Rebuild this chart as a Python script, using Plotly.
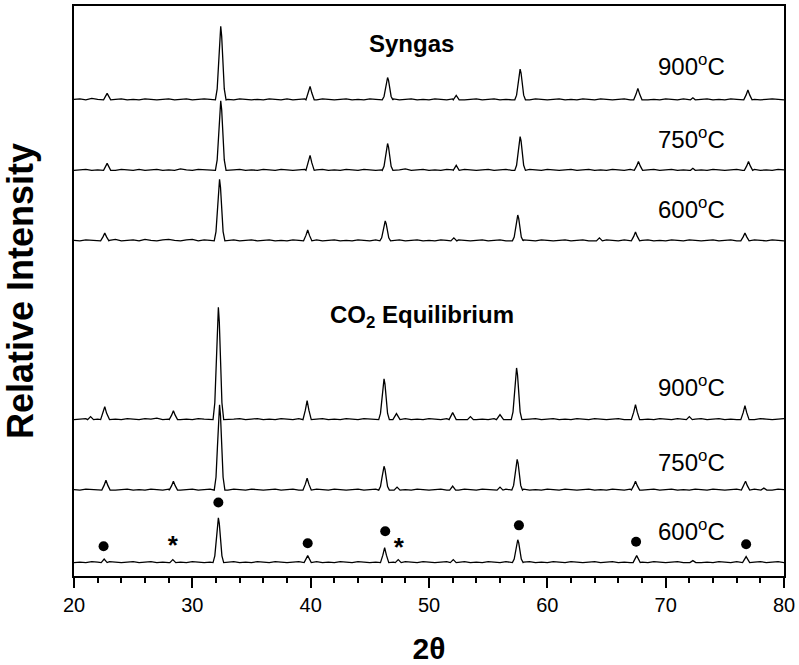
import plotly.graph_objects as go

# Baseline samples on a 0.5 deg grid (2-theta from 20 to 80), one list per pattern
grid_2theta = [20 + 0.5 * i for i in range(121)]

noise_syn900 = [
    0.5, 1, 0, 1.5, 0.5, 1, 0, 0.5, 1, 0,
    0.5, 0, 1, 0.5, 0, 0.5, 1, 0, 0.5, 1,
    0, 0.5, 1, 0.5, 0, 1, 0.5, 0, 1, 0.5,
    0, 0.5, 0, 1, 0.5, 0, 1, 0, 0.5, 1,
    0.5, 0, 1, 0.5, 0, 0.5, 1, 0, 0.5, 0,
    1, 0.5, 0, 0.5, 1, 0, 0.5, 1, 0, 0.5,
    0, 1, 0.5, 0, 1, 0.5, 0, 0.5, 1, 0,
    0.5, 1, 0, 0.5, 0, 1, 0.5, 0, 1, 0.5,
    0, 0.5, 1, 0, 0.5, 0, 1, 0.5, 0, 1,
    0.5, 0, 0.5, 1, 0, 0.5, 1, 0, 0.5, 0,
    1, 0.5, 0, 1, 0.5, 0, 0.5, 1, 0, 0.5,
    0, 1, 0.5, 0, 1, 0.5, 0, 0.5, 1, 0.5,
    0]
noise_syn750 = [
    0, 0.5, 1, 0, 0.5, 1, 0.5, 0, 1, 0.5,
    0, 1, 0, 0.5, 1, 0, 0.5, 0, 1.5, 0.5,
    0, 1, 0.5, 0, 0.5, 1, 0, 0.5, 1, 0,
    0.5, 0, 1, 0.5, 0, 1, 0.5, 0, 0.5, 1,
    0, 0.5, 1, 0, 0.5, 0, 1, 0.5, 0, 1,
    0.5, 0, 0.5, 1, 0, 0.5, 1.5, 0, 0.5, 1,
    0, 0.5, 0, 1, 0.5, 0, 1, 0.5, 0, 0.5,
    1, 0, 0.5, 1, 0, 0.5, 0, 1, 0.5, 0,
    1, 0.5, 0, 0.5, 1, 0, 0.5, 1, 0, 0.5,
    0, 1, 0.5, 0, 1, 0.5, 0, 0.5, 1, 0,
    0.5, 1, 0, 0.5, 0, 1, 0.5, 0, 1, 0.5,
    0, 0.5, 1, 0, 0.5, 1, 0, 0.5, 0, 1,
    0.5]
noise_syn600 = [
    0.5, 0, 1, 0.5, 0, 1, 0.5, 1.5, 0, 0.5,
    1, 0, 1.5, 0.5, 0, 1, 1.5, 0.5, 0, 1,
    1.5, 0, 1, 0.5, 1.5, 0, 0.5, 1, 0, 0.5,
    1, 0, 0.5, 1, 0, 0.5, 0, 1, 0.5, 0,
    0.5, 1, 0, 0.5, 1, 0, 0.5, 0, 1, 0.5,
    0, 1, 0.5, 0, 0.5, 1, 0, 0.5, 1, 0,
    0.5, 0, 1, 0.5, 0, 1, 0.5, 0, 0.5, 1,
    0, 0.5, 1, 0, 0.5, 0, 1, 0.5, 0, 1,
    0.5, 0, 0.5, 1, 0, 0.5, 1, 0, 0.5, 0,
    1, 0.5, 0, 1, 0.5, 0, 0.5, 1, 0, 0.5,
    0, 1, 0.5, 0, 1, 0.5, 0, 0.5, 1, 0,
    0.5, 1, 0, 0.5, 0, 1, 0.5, 0, 1, 0.5,
    0]
noise_co900 = [
    0, 0.5, 1, 0, 0.5, 1, 0, 0.5, 0, 1,
    0.5, 0, 1, 0.5, 1.5, 0, 0.5, 1, 0, 0.5,
    0, 1, 0.5, 0, 1, 0.5, 0, 0.5, 1, 0,
    0.5, 1, 0, 0.5, 0, 1, 0.5, 0, 1, 0.5,
    0, 0.5, 1, 0, 0.5, 0, 1, 0.5, 0, 1,
    0.5, 0, 0.5, 1, 0, 0.5, 1, 0, 0.5, 0,
    1, 0.5, 0, 1, 0.5, 0, 0.5, 1, 0, 0.5,
    0, 1, 0.5, 0, 1, 0.5, 0, 0.5, 1, 0,
    0.5, 1, 0, 0.5, 0, 1, 0.5, 0, 1, 0.5,
    0, 0.5, 1, 0, 0.5, 1, 0, 0.5, 0, 1,
    0.5, 0, 1, 0.5, 0, 0.5, 1, 0, 0.5, 1,
    0, 0.5, 0, 1, 0.5, 0, 1, 0.5, 0, 0.5,
    1]
noise_co750 = [
    0.5, 0, 1, 0.5, 0, 0.5, 1, 0, 0.5, 1,
    0, 0.5, 0, 1, 0.5, 0, 1, 0.5, 0, 0.5,
    1, 0, 0.5, 1, 0, 0.5, 0, 1, 0.5, 0,
    1, 0.5, 0, 0.5, 1, 0, 0.5, 1, 0, 0.5,
    0, 1, 0.5, 0, 1, 0.5, 0, 0.5, 1, 0,
    0.5, 1, 0, 0.5, 0, 1, 0.5, 0, 1, 0.5,
    0, 0.5, 1, 0, 0.5, 0, 1, 0.5, 0, 1,
    0.5, 0, 0.5, 1, 0, 0.5, 1, 0, 0.5, 0,
    1, 0.5, 0, 1, 0.5, 0, 0.5, 1, 0, 0.5,
    0, 1, 0.5, 0, 1, 0.5, 0, 0.5, 1, 0,
    0.5, 1, 0, 0.5, 0, 1, 0.5, 0, 1, 0.5,
    0, 0.5, 1, 0, 0.5, 1, 0, 0.5, 0, 1,
    0.5]
noise_co600 = [
    0, 0.5, 0, 1, 0.5, 0, 1, 0.5, 0, 0.5,
    1, 0, 0.5, 1, 0, 0.5, 0, 1, 0.5, 0,
    1, 0.5, 0, 0.5, 1, 0, 0.5, 1, 0, 0.5,
    0, 1, 0.5, 0, 1, 0.5, 0, 0.5, 1, 0,
    0.5, 1, 0, 0.5, 0, 1, 0.5, 0, 1, 0.5,
    0, 0.5, 1, 0, 0.5, 0, 1, 0.5, 0, 1,
    0.5, 0, 0.5, 1, 0, 0.5, 1, 0, 0.5, 0,
    1, 0.5, 0, 1, 0.5, 0, 0.5, 1, 0, 0.5,
    0, 1, 0.5, 0, 1, 0.5, 0, 0.5, 1, 0,
    0.5, 1, 0, 0.5, 0, 1, 0.5, 0, 1, 0.5,
    0, 0.5, 1, 0, 0.5, 1, 0, 0.5, 0, 1,
    0.5, 0, 1, 0.5, 0, 0.5, 1, 0, 0.5, 1,
    0]

# Reflection profiles: (2-theta, intensity above baseline) vertices for each peak
peaks_syn900 = [
    [(22.5, 0), (22.8, 6.5), (23.1, 0)],
    [(31.95, 0), (32.1, 11), (32.22, 37), (32.32, 64), (32.4, 74),
     (32.48, 64), (32.58, 37), (32.7, 11), (32.85, 0)],
    [(39.6, 0), (39.8, 6.8), (39.95, 13.5), (40.1, 6.8), (40.3, 0)],
    [(46.05, 0), (46.2, 3.4), (46.32, 11.3), (46.42, 19.6), (46.5, 22.5),
     (46.58, 19.6), (46.68, 11.3), (46.8, 3.4), (46.95, 0)],
    [(52.05, 0), (52.3, 4.5), (52.55, 0)],
    [(57.25, 0), (57.4, 4.7), (57.52, 15.5), (57.62, 27), (57.7, 31),
     (57.78, 27), (57.88, 15.5), (58.0, 4.7), (58.15, 0)],
    [(67.3, 0), (67.5, 5.8), (67.65, 11.5), (67.8, 5.8), (68.0, 0)],
    [(72.1, 0), (72.3, 2), (72.5, 0)],
    [(76.6, 0), (76.8, 5), (76.95, 10), (77.1, 5), (77.3, 0)],
]
peaks_syn750 = [
    [(22.5, 0), (22.8, 7), (23.1, 0)],
    [(31.95, 0), (32.1, 10.5), (32.22, 35), (32.32, 61), (32.4, 70),
     (32.48, 61), (32.58, 35), (32.7, 10.5), (32.85, 0)],
    [(39.6, 0), (39.8, 7.5), (39.95, 15), (40.1, 7.5), (40.3, 0)],
    [(46.05, 0), (46.2, 4), (46.32, 13.5), (46.42, 23.5), (46.5, 27),
     (46.58, 23.5), (46.68, 13.5), (46.8, 4), (46.95, 0)],
    [(52.05, 0), (52.3, 5), (52.55, 0)],
    [(57.25, 0), (57.4, 5.1), (57.52, 17), (57.62, 29.6), (57.7, 34),
     (57.78, 29.6), (57.88, 17), (58.0, 5.1), (58.15, 0)],
    [(67.35, 0), (67.55, 4.5), (67.7, 9), (67.85, 4.5), (68.05, 0)],
    [(72.1, 0), (72.3, 2), (72.5, 0)],
    [(76.65, 0), (76.85, 4.5), (77.0, 9), (77.15, 4.5), (77.35, 0)],
]
peaks_syn600 = [
    [(22.25, 0), (22.45, 4), (22.6, 8), (22.75, 4), (22.95, 0)],
    [(31.85, 0), (32.0, 9.3), (32.12, 31), (32.22, 54), (32.3, 62),
     (32.38, 54), (32.48, 31), (32.6, 9.3), (32.75, 0)],
    [(39.4, 0), (39.6, 5.5), (39.75, 11), (39.9, 5.5), (40.1, 0)],
    [(45.85, 0), (46.0, 3), (46.12, 10), (46.22, 17.4), (46.3, 20),
     (46.38, 17.4), (46.48, 10), (46.6, 3), (46.75, 0)],
    [(51.85, 0), (52.1, 3), (52.35, 0)],
    [(57.05, 0), (57.2, 3.9), (57.32, 13), (57.42, 22.6), (57.5, 26),
     (57.58, 22.6), (57.68, 13), (57.8, 3.9), (57.95, 0)],
    [(64.15, 0), (64.4, 3), (64.65, 0)],
    [(67.1, 0), (67.3, 4.5), (67.45, 9), (67.6, 4.5), (67.8, 0)],
    [(76.35, 0), (76.55, 4), (76.7, 8), (76.85, 4), (77.05, 0)],
]
peaks_co900 = [
    [(21.15, 0), (21.4, 3), (21.65, 0)],
    [(22.25, 0), (22.45, 6.5), (22.6, 13), (22.75, 6.5), (22.95, 0)],
    [(28.05, 0), (28.25, 4.5), (28.4, 9), (28.55, 4.5), (28.75, 0)],
    [(31.75, 0), (31.9, 17), (32.02, 56.5), (32.12, 98.3), (32.2, 113),
     (32.28, 98.3), (32.38, 56.5), (32.5, 17), (32.65, 0)],
    [(39.35, 0), (39.55, 9.5), (39.7, 19), (39.85, 9.5), (40.05, 0)],
    [(45.75, 0), (45.9, 6.2), (46.02, 20.5), (46.12, 35.7), (46.2, 41),
     (46.28, 35.7), (46.38, 20.5), (46.5, 6.2), (46.65, 0)],
    [(46.95, 0), (47.25, 6), (47.55, 0)],
    [(51.7, 0), (52.0, 7), (52.3, 0)],
    [(53.25, 0), (53.5, 3), (53.75, 0)],
    [(55.7, 0), (56.0, 5), (56.3, 0)],
    [(56.95, 0), (57.1, 7.8), (57.22, 26), (57.32, 45.2), (57.4, 52),
     (57.48, 45.2), (57.58, 26), (57.7, 7.8), (57.85, 0)],
    [(67.1, 0), (67.3, 7.5), (67.45, 15), (67.6, 7.5), (67.8, 0)],
    [(71.75, 0), (72.0, 3), (72.25, 0)],
    [(76.35, 0), (76.55, 7), (76.7, 14), (76.85, 7), (77.05, 0)],
]
peaks_co750 = [
    [(22.35, 0), (22.55, 5), (22.7, 10), (22.85, 5), (23.05, 0)],
    [(28.05, 0), (28.25, 4.5), (28.4, 9), (28.55, 4.5), (28.75, 0)],
    [(31.85, 0), (32.0, 12.9), (32.12, 43), (32.22, 74.8), (32.3, 86),
     (32.38, 74.8), (32.48, 43), (32.6, 12.9), (32.75, 0)],
    [(39.35, 0), (39.55, 6), (39.7, 12), (39.85, 6), (40.05, 0)],
    [(45.75, 0), (45.9, 3.6), (46.02, 12), (46.12, 20.9), (46.2, 24),
     (46.28, 20.9), (46.38, 12), (46.5, 3.6), (46.65, 0)],
    [(47.05, 0), (47.3, 3), (47.55, 0)],
    [(51.75, 0), (52.0, 4), (52.25, 0)],
    [(55.75, 0), (56.0, 3), (56.25, 0)],
    [(57.0, 0), (57.15, 4.7), (57.27, 15.5), (57.37, 27), (57.45, 31),
     (57.53, 27), (57.63, 15.5), (57.75, 4.7), (57.9, 0)],
    [(67.1, 0), (67.3, 4.5), (67.45, 9), (67.6, 4.5), (67.8, 0)],
    [(76.4, 0), (76.6, 4.5), (76.75, 9), (76.9, 4.5), (77.1, 0)],
    [(78.05, 0), (78.3, 2), (78.55, 0)],
]
peaks_co600 = [
    [(22.3, 0), (22.55, 3.5), (22.8, 0)],
    [(28.1, 0), (28.35, 3), (28.6, 0)],
    [(31.75, 0), (31.9, 6.8), (32.02, 22.5), (32.12, 39.2), (32.2, 45),
     (32.28, 39.2), (32.38, 22.5), (32.5, 6.8), (32.65, 0)],
    [(39.45, 0), (39.75, 7), (40.05, 0)],
    [(45.9, 0), (46.1, 7.5), (46.25, 15), (46.4, 7.5), (46.6, 0)],
    [(47.15, 0), (47.4, 3), (47.65, 0)],
    [(51.8, 0), (52.05, 3), (52.3, 0)],
    [(57.05, 0), (57.2, 3.5), (57.32, 11.5), (57.42, 20), (57.5, 23),
     (57.58, 20), (57.68, 11.5), (57.8, 3.5), (57.95, 0)],
    [(67.25, 0), (67.55, 7), (67.85, 0)],
    [(72.05, 0), (72.3, 2), (72.55, 0)],
    [(76.5, 0), (76.8, 6), (77.1, 0)],
]

# Stacking offsets (arbitrary intensity units)
patterns = [
    ("Syngas 900", noise_syn900, peaks_syn900, 479.5),
    ("Syngas 750", noise_syn750, peaks_syn750, 408.5),
    ("Syngas 600", noise_syn600, peaks_syn600, 337.5),
    ("CO2 900", noise_co900, peaks_co900, 157.5),
    ("CO2 750", noise_co750, peaks_co750, 86.5),
    ("CO2 600", noise_co600, peaks_co600, 13.5),
]
temp_labels = ["900", "750", "600", "900", "750", "600"]
temp_label_y = [515, 441, 371, 191, 116, 46]

# Phase markers on the bottom pattern
dot_2theta = [22.5, 32.2, 39.75, 46.3, 57.6, 67.5, 76.8]
dot_y = [30, 74, 33, 45, 51, 34.5, 32]
star_2theta = [28.35, 47.45]
star_y = [28.5, 27]


def build(noise, peaks, offset):
    spans = [(p[0][0], p[-1][0]) for p in peaks]
    pts = [(x, n) for x, n in zip(grid_2theta, noise)
           if not any(a <= x <= b for a, b in spans)]
    for p in peaks:
        pts.extend(p)
    pts.sort()
    return [x for x, _ in pts], [y + offset for _, y in pts]


fig = go.Figure()
for name, noise, peaks, offset in patterns:
    xs, ys = build(noise, peaks, offset)
    fig.add_trace(go.Scatter(x=xs, y=ys, mode="lines", name=name,
                             line=dict(color="black", width=1.3)))

fig.add_trace(go.Scatter(x=dot_2theta, y=dot_y, mode="markers",
                         marker=dict(color="black", size=10)))
fig.add_trace(go.Scatter(x=star_2theta, y=star_y, mode="text",
                         text=["<b>*</b>"] * len(star_2theta),
                         textposition="middle center",
                         textfont=dict(family="Arial", size=26, color="black")))

annotations = []
for t, y in zip(temp_labels, temp_label_y):
    annotations.append(dict(x=69.2, y=y, xref="x", yref="y", xanchor="left",
                            yanchor="middle", showarrow=False,
                            text=f"{t}<sup>o</sup>C",
                            font=dict(family="Arial", size=24, color="black")))
annotations.append(dict(x=48.5, y=536, xref="x", yref="y", xanchor="center",
                        yanchor="middle", showarrow=False, text="<b>Syngas</b>",
                        font=dict(family="Arial", size=24, color="black")))
annotations.append(dict(x=41.5, y=261, xref="x", yref="y", xanchor="left",
                        yanchor="middle", showarrow=False,
                        text="<b>CO<sub>2</sub> Equilibrium</b>",
                        font=dict(family="Arial", size=24, color="black")))

fig.update_layout(
    width=799, height=665,
    margin=dict(l=74, r=11, t=4, b=87),
    paper_bgcolor="white", plot_bgcolor="white",
    showlegend=False,
    font=dict(family="Arial", color="black"),
    annotations=annotations,
)
fig.update_xaxes(
    range=[20, 80], tickvals=[20, 30, 40, 50, 60, 70, 80],
    ticks="outside", ticklen=10, tickwidth=2, tickcolor="black",
    minor=dict(dtick=2, ticks="outside", ticklen=5, tickwidth=1.5, tickcolor="black"),
    showline=True, linewidth=2, linecolor="black", mirror=True,
    showgrid=False, zeroline=False, ticklabeloverflow="allow",
    tickfont=dict(family="Arial", size=20, color="black"),
    title=dict(text="<b>2θ</b>", font=dict(family="Arial", size=30, color="black"),
               standoff=24),
)
fig.update_yaxes(
    range=[0, 574], showticklabels=False, ticks="",
    showline=True, linewidth=2, linecolor="black", mirror=True,
    showgrid=False, zeroline=False,
    title=dict(text="<b>Relative Intensity</b>",
               font=dict(family="Arial", size=36, color="black"), standoff=27),
)

fig.write_html("out.html")
